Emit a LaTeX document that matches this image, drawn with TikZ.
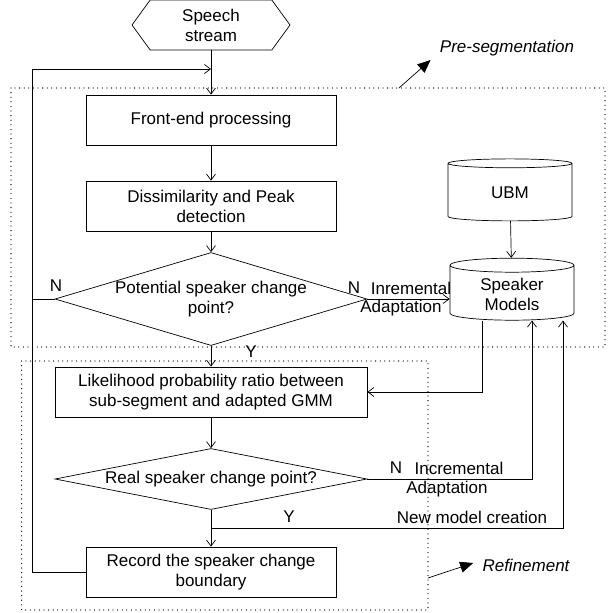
\documentclass[tikz,border=0pt]{standalone}
\usepackage{fontspec}
\setmainfont{Liberation Sans}
\usetikzlibrary{arrows.meta, positioning, calc, shapes.geometric, shapes.symbols}
\tikzset{
  box/.style={draw, minimum width=250pt, minimum height=50pt, align=center, inner sep=0pt},
  dia/.style={draw, diamond, minimum width=312pt, minimum height=#1, inner sep=0pt},
  drum/.style={draw, cylinder, shape border rotate=90, aspect=0.2, minimum width=124pt, minimum height=62pt, align=center},
  arr/.style={-{Straight Barb[length=6pt, width=9pt]}, line width=0.7pt},
  ln/.style={line width=0.7pt},
  zone/.style={line width=1.3pt, dash pattern=on 0pt off 4.6pt, line cap=round},
  tag/.style={-{Triangle[length=13pt, width=11pt]}, line width=0.7pt},
  lbl/.style={inner sep=0pt},
}

\begin{document}
\begin{tikzpicture}[x=1pt, y=-1pt, line width=0.7pt,
    every node/.style={font=\fontsize{17pt}{20pt}\selectfont}]
  \useasboundingbox (0,0) rectangle (610,613);
  % zones
  \draw[zone] (11,88) rectangle (605,347);
  \draw[zone] (21.6,361) rectangle (428,610);
  % main column
  \node[draw, signal, signal to=east and west, signal pointer angle=108,
    minimum width=158pt, minimum height=50pt, inner sep=0pt, align=center] (speech) at (211,25) {Speech\\stream};
  \node[box] (front) at (211,120) {Front-end processing};
  \node[box] (dis) at (211,206) {Dissimilarity and Peak\\detection};
  \node[dia=93pt, label={[align=center]center:Potential speaker change\\point?}] (pot) at (211,299) {};
  \node[box, minimum width=312pt] (like) at (211,392) {Likelihood probability ratio between\\sub-segment and adapted GMM};
  \node[dia=61pt, label={center:Real speaker change point?}] (real) at (211,479) {};
  \node[box] (rec) at (211,572) {Record the speaker change\\boundary};
  % models
  \node[drum] (ubm) at (510,193) {UBM};
  \node[drum] (spk) at (512,294) {Speaker\\Models};
  % labels
  \node[lbl] (n1) at (56,286) {N};
  \node[lbl] (n2) at (354,288) {N};
  \node[lbl] (inc1) at (411,288) {Inremental};
  \node[lbl] (adp1) at (401,308) {Adaptation};
  \node[lbl] (y1) at (251,352) {Y};
  \node[lbl] (n3) at (396,468) {N};
  \node[lbl] (inc2) at (459,468) {Incremental};
  \node[lbl] (adp2) at (447,489) {Adaptation};
  \node[lbl] (y2) at (289,517) {Y};
  \node[lbl] (new) at (472,517) {New model creation};
  \node[lbl, font=\fontsize{17pt}{20pt}\selectfont\itshape] (pre) at (507,48) {Pre-segmentation};
  \node[lbl, font=\fontsize{17pt}{20pt}\selectfont\itshape] (refi) at (526,565) {Refinement};
  \coordinate (join) at (211,69);
  \coordinate (back) at (32,69);
  \coordinate (fork) at (211,528);
  \coordinate (p1) at (399,88);
  \coordinate (p2) at (428,578);
  % connectors
  \draw[arr] (speech.south) -- (front.north);
  \draw[arr] (back) -- (join);
  \draw[arr] (front) -- (dis);
  \draw[arr] (dis) -- (pot);
  \draw[arr] (pot.south) -- (like.north);
  \draw[arr] (like) -- (real);
  \draw[arr] (real.south) -- (rec.north);
  \draw (pot.west) -| (back);
  \draw (rec.west) -| (back);
  \draw[arr] (pot.east) -- (pot.east -| spk.west);
  \draw[arr] (ubm) -- (spk);
  \draw[arr] ([xshift=-30pt]spk.south) |- (like.east);
  \draw[arr] (real.east) -| ([xshift=20pt]spk.south);
  \draw[arr] (fork) -| ([xshift=51pt]spk.south);
  \draw[tag] (p1) -- ([shift={(-9,12)}]pre.west);
  \draw[tag] (p2) -- ([shift={(-9,-2)}]refi.west);
\end{tikzpicture}
\end{document}
